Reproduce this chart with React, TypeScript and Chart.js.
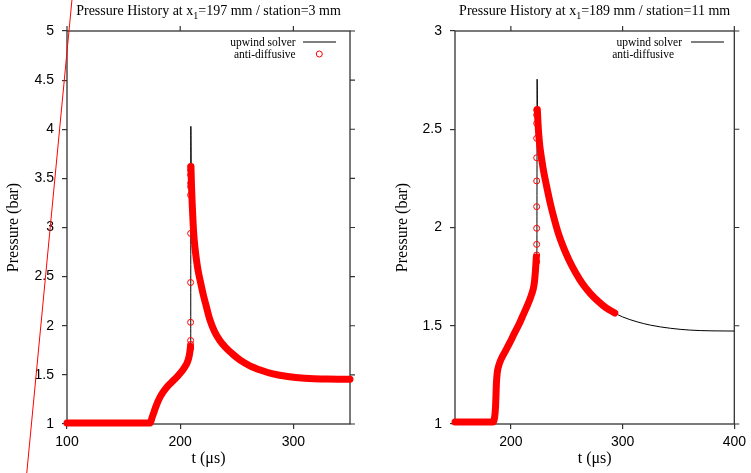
import React, { useEffect, useRef } from 'react';
import { Chart, registerables } from 'chart.js';

Chart.register(...registerables);

const SERIF = '"Liberation Serif", "Times New Roman", serif';
const SANS = '"Liberation Sans", Arial, sans-serif';

// ---------- Left panel (x1 = 197 mm) ----------
const L_TITLE = ['Pressure History at x', '1', '=197 mm / station=3 mm'];
const L_X_TICKS = [100, 200, 300];
const L_Y_TICKS = [1, 1.5, 2, 2.5, 3, 3.5, 4, 4.5, 5];
const L_RISE_T = [100, 173.5, 175, 176.5, 178, 180, 182, 184, 186.5, 189, 192, 195, 198, 201, 204, 206, 207.5, 208.5, 209.1];
const L_RISE_P = [1.01, 1.01, 1.06, 1.11, 1.16, 1.22, 1.27, 1.31, 1.35, 1.385, 1.42, 1.455, 1.49, 1.53, 1.58, 1.62, 1.67, 1.73, 1.79];
const L_DECAY_T = [209.5, 210, 210.6, 211.3, 212, 213, 214.5, 216, 218, 220.5, 223, 226, 230, 235, 240, 246, 253, 262, 272, 282, 295, 310, 330, 350];
const L_DECAY_P = [3.62, 3.42, 3.24, 3.07, 2.93, 2.8, 2.66, 2.55, 2.44, 2.31, 2.2, 2.07, 1.95, 1.85, 1.78, 1.715, 1.65, 1.59, 1.545, 1.51, 1.483, 1.466, 1.457, 1.455];
const L_JUMP_T = [209.2, 209.2, 209.2, 209.2, 209.2, 209.2, 209.2, 209.2, 209.2, 209.2, 209.2, 209.2];
const L_JUMP_P = [1.77, 1.81, 1.85, 2.035, 2.44, 2.94, 3.33, 3.415, 3.45, 3.535, 3.585, 3.62];
const L_SPIKE_T = [209.3, 209.4, 209.7];
const L_SPIKE_P = [1.82, 4.03, 3.55];
const L_REF_T = [60.3, 105.9];
const L_REF_P = [0, 5.5];

// ---------- Right panel (x1 = 189 mm) ----------
const R_TITLE = ['Pressure History at x', '1', '=189 mm / station=11 mm'];
const R_X_TICKS = [200, 300, 400];
const R_Y_TICKS = [1, 1.5, 2, 2.5, 3];
const R_RISE_T = [150, 184, 185.6, 186.3, 186.7, 187.1, 187.8, 189.3, 191.3, 195, 198.7, 203, 207.5, 211, 214.9, 218.3, 220.8, 222, 222.8];
const R_RISE_P = [1.01, 1.01, 1.04, 1.09, 1.15, 1.21, 1.26, 1.3, 1.33, 1.37, 1.41, 1.46, 1.51, 1.555, 1.605, 1.655, 1.71, 1.78, 1.85];
const R_DECAY_T = [223.7, 224.3, 225, 226, 227.5, 229.5, 232, 235, 238.5, 242.5, 247, 252, 258, 264, 271, 278, 285, 293];
const R_DECAY_P = [2.6, 2.53, 2.47, 2.41, 2.35, 2.28, 2.21, 2.13, 2.05, 1.97, 1.9, 1.835, 1.77, 1.715, 1.665, 1.625, 1.592, 1.565];
const R_TAIL_T = [300, 313, 325, 343, 360, 380, 400];
const R_TAIL_P = [1.545, 1.52, 1.503, 1.487, 1.478, 1.474, 1.473];
const R_JUMP_T = [223.1, 223.1, 223.1, 223.1, 223.1, 223.1, 223.1, 223.1, 223.1, 223.1, 223.1];
const R_JUMP_P = [1.826, 1.86, 1.914, 1.996, 2.106, 2.237, 2.355, 2.454, 2.53, 2.573, 2.598];
const R_SPIKE_T = [223.3, 223.5, 223.8];
const R_SPIKE_P = [1.88, 2.755, 2.6];

const pts = (t: number[], p: number[]) => t.map((x, i) => ({ x, y: p[i] }));

type PanelCfg = {
  left: number;
  title: string[];
  xMin: number; xMax: number; yMin: number; yMax: number;
  xTicks: number[]; yTicks: number[];
  yAxisWidth: number; padRight: number; yTitleX: number;
  datasets: any[];
  legend: { textRight1: number; textRight2: number; lineX1: number; lineX2: number; circleX: number | null };
};

const RED = '#ff0000';

function band(t: number[], p: number[]) {
  return {
    label: 'band', data: pts(t, p), showLine: true, borderColor: RED, borderWidth: 7,
    borderCapStyle: 'round', borderJoinStyle: 'round', pointRadius: 0,
    cubicInterpolationMode: 'monotone', order: 1, clip: 5,
  };
}
function circles(t: number[], p: number[]) {
  return {
    label: 'anti-diffusive', data: pts(t, p), showLine: false, pointRadius: 3,
    pointBorderColor: RED, pointBackgroundColor: 'rgba(0,0,0,0)', pointBorderWidth: 1, order: 0,
  };
}
function black(t: number[], p: number[]) {
  return {
    label: 'upwind solver', data: pts(t, p), showLine: true, borderColor: '#000', borderWidth: 1,
    pointRadius: 0, cubicInterpolationMode: 'monotone', order: 2,
  };
}

const LEFT: PanelCfg = {
  left: 0, title: L_TITLE, xMin: 100, xMax: 350, yMin: 1, yMax: 5,
  xTicks: L_X_TICKS, yTicks: L_Y_TICKS, yAxisWidth: 67, padRight: 25, yTitleX: 14,
  datasets: [
    circles(L_JUMP_T, L_JUMP_P),
    band(L_RISE_T, L_RISE_P),
    band(L_DECAY_T, L_DECAY_P),
    black([...L_RISE_T, ...L_SPIKE_T, ...L_DECAY_T.slice(1)], [...L_RISE_P, ...L_SPIKE_P, ...L_DECAY_P.slice(1)]),
    { label: 'ref', data: pts(L_REF_T, L_REF_P), showLine: true, borderColor: RED, borderWidth: 1, pointRadius: 0, clip: false, order: 0 },
  ],
  legend: { textRight1: 295.7, textRight2: 295.7, lineX1: 303, lineX2: 336, circleX: 319.3 },
};

const RIGHT: PanelCfg = {
  left: 376, title: R_TITLE, xMin: 150, xMax: 400, yMin: 1, yMax: 3,
  xTicks: R_X_TICKS, yTicks: R_Y_TICKS, yAxisWidth: 79, padRight: 13, yTitleX: 26.5,
  datasets: [
    circles(R_JUMP_T, R_JUMP_P),
    band(R_RISE_T, R_RISE_P),
    band(R_DECAY_T, R_DECAY_P),
    black([...R_RISE_T, ...R_SPIKE_T, ...R_DECAY_T.slice(1), ...R_TAIL_T], [...R_RISE_P, ...R_SPIKE_P, ...R_DECAY_P.slice(1), ...R_TAIL_P]),
  ],
  legend: { textRight1: 306, textRight2: 298, lineX1: 315, lineX2: 348, circleX: null },
};

function makePlugin(cfg: PanelCfg) {
  return {
    id: 'gnuplotDecor',
    beforeDatasetsDraw(chart: any) {
      const { ctx, chartArea: a, scales } = chart;
      ctx.save();
      ctx.strokeStyle = '#333';
      ctx.lineWidth = 1.3;
      ctx.strokeRect(a.left, a.top, a.right - a.left, a.bottom - a.top);
      ctx.lineWidth = 1.2;
      ctx.beginPath();
      cfg.xTicks.forEach((v) => {
        const px = scales.x.getPixelForValue(v);
        ctx.moveTo(px, a.top);
        ctx.lineTo(px, a.top - 5);
      });
      cfg.yTicks.forEach((v) => {
        const py = scales.y.getPixelForValue(v);
        ctx.moveTo(a.right, py);
        ctx.lineTo(a.right + 5, py);
      });
      ctx.stroke();
      ctx.restore();
    },
    afterDraw(chart: any) {
      const { ctx, chartArea: a } = chart;
      ctx.save();
      ctx.fillStyle = '#000';
      const big = `14px ${SERIF}`;
      const small = `10px ${SERIF}`;
      ctx.font = big;
      const w0 = ctx.measureText(cfg.title[0]).width;
      const w2 = ctx.measureText(cfg.title[2]).width;
      ctx.font = small;
      const w1 = ctx.measureText(cfg.title[1]).width;
      const cx = (a.left + a.right) / 2;
      let x = cx - (w0 + w1 + w2) / 2;
      ctx.textBaseline = 'alphabetic';
      ctx.textAlign = 'left';
      ctx.font = big;
      ctx.fillText(cfg.title[0], x, 15);
      x += w0;
      ctx.font = small;
      ctx.fillText(cfg.title[1], x, 18.5);
      x += w1;
      ctx.font = big;
      ctx.fillText(cfg.title[2], x, 15);

      ctx.font = `16px ${SERIF}`;
      ctx.textAlign = 'center';
      ctx.textBaseline = 'middle';
      ctx.fillText('t (\u03bcs)', cx, 459);
      ctx.save();
      ctx.translate(cfg.yTitleX, (a.top + a.bottom) / 2);
      ctx.rotate(-Math.PI / 2);
      ctx.fillText('Pressure (bar)', 0, 0);
      ctx.restore();

      const lg = cfg.legend;
      ctx.font = `11.5px ${SERIF}`;
      ctx.textAlign = 'right';
      ctx.textBaseline = 'alphabetic';
      ctx.fillText('upwind solver', lg.textRight1, 45.5);
      ctx.fillText('anti-diffusive', lg.textRight2, 57.5);
      ctx.strokeStyle = '#000';
      ctx.lineWidth = 1;
      ctx.beginPath();
      ctx.moveTo(lg.lineX1, 42);
      ctx.lineTo(lg.lineX2, 42);
      ctx.stroke();
      if (lg.circleX !== null) {
        ctx.strokeStyle = RED;
        ctx.beginPath();
        ctx.arc(lg.circleX, 54, 3, 0, Math.PI * 2);
        ctx.stroke();
      }
      ctx.restore();
    },
  };
}

function buildConfig(cfg: PanelCfg): any {
  const axisCommon = {
    type: 'linear',
    grid: { drawOnChartArea: false, drawTicks: true, tickLength: 5, color: '#333', lineWidth: 1.2 },
    border: { display: false },
  };
  return {
    type: 'scatter',
    data: { datasets: cfg.datasets },
    options: {
      animation: false,
      responsive: false,
      devicePixelRatio: 1,
      layout: { autoPadding: false, padding: { left: 0, right: cfg.padRight, top: 31, bottom: 0 } },
      plugins: { legend: { display: false }, title: { display: false }, tooltip: { enabled: false } },
      scales: {
        x: {
          ...axisCommon,
          min: cfg.xMin, max: cfg.xMax,
          afterBuildTicks: (s: any) => { s.ticks = cfg.xTicks.map((v) => ({ value: v })); },
          afterFit: (s: any) => { s.height = 49; },
          ticks: { font: { family: SANS, size: 14 }, color: '#000', padding: 5, maxRotation: 0, autoSkip: false, callback: (v: any) => String(v) },
        },
        y: {
          ...axisCommon,
          min: cfg.yMin, max: cfg.yMax,
          afterBuildTicks: (s: any) => { s.ticks = cfg.yTicks.map((v) => ({ value: v })); },
          afterFit: (s: any) => { s.width = cfg.yAxisWidth; },
          ticks: { font: { family: SANS, size: 14 }, color: '#000', padding: 8, autoSkip: false, callback: (v: any) => String(v) },
        },
      },
    },
    plugins: [makePlugin(cfg)],
  };
}

function Panel({ cfg }: { cfg: PanelCfg }) {
  const ref = useRef<HTMLCanvasElement>(null);
  useEffect(() => {
    const chart = new Chart(ref.current as HTMLCanvasElement, buildConfig(cfg));
    return () => chart.destroy();
  }, [cfg]);
  return (
    <canvas
      ref={ref}
      width={375}
      height={473}
      style={{ position: 'absolute', left: cfg.left, top: 0, width: 375, height: 473 }}
    />
  );
}

export default function App() {
  return (
    <div style={{ position: 'absolute', left: 0, top: 0, width: 751, height: 473, background: '#fff', overflow: 'hidden' }}>
      <Panel cfg={LEFT} />
      <Panel cfg={RIGHT} />
    </div>
  );
}
